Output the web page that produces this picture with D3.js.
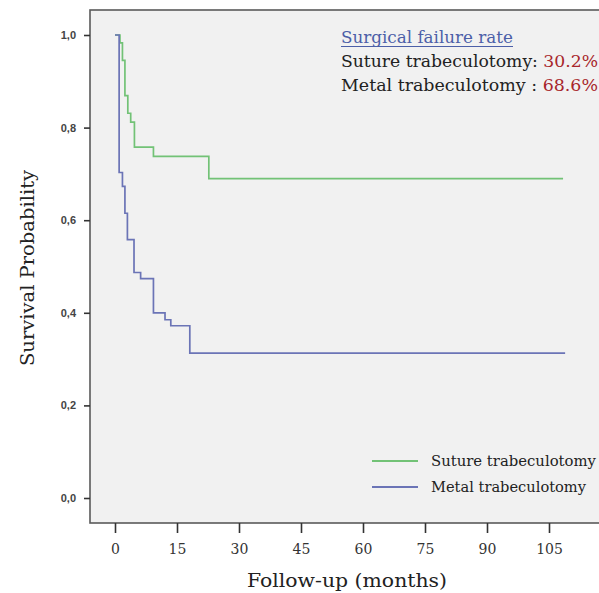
<!DOCTYPE html>
<html><head><meta charset="utf-8">
<script src="https://cdn.jsdelivr.net/npm/d3@7"></script>
<style>body{margin:0;background:#fff}svg{display:block}</style>
</head><body>
<script>
// ---- data ----
const sutureMonths = [0, 1.2, 1.8, 2.4, 3.1, 3.8, 4.7, 9.3, 22.7, 108.4];
const sutureSurv   = [1.0, 0.983, 0.945, 0.869, 0.831, 0.812, 0.758, 0.738, 0.690, 0.690];
const metalMonths  = [0, 1.0, 1.8, 2.4, 3.0, 4.6, 6.2, 9.3, 12.1, 13.5, 18.1, 108.9];
const metalSurv    = [1.0, 0.703, 0.673, 0.615, 0.558, 0.487, 0.474, 0.400, 0.385, 0.372, 0.313, 0.313];
const xTicks = [0, 15, 30, 45, 60, 75, 90, 105];
const yTicks = [0, 0.2, 0.4, 0.6, 0.8, 1.0];
const seriesNames = ["Suture trabeculotomy", "Metal trabeculotomy"];
const failureRates = ["30.2%", "68.6%"];

const W = 599, H = 593;
const svg = d3.select("body").append("svg").attr("width", W).attr("height", H);

const x = d3.scaleLinear().domain([0, 105]).range([115, 549]);
const y = d3.scaleLinear().domain([0, 1]).range([498, 35]);

// plot area
svg.append("rect").attr("x", 90).attr("y", 10).attr("width", W - 90 + 5).attr("height", 523 - 10)
  .attr("fill", "#f1f1f1").attr("stroke", "#5a5a5a").attr("stroke-width", 1.6);

const serif = "'DejaVu Serif', serif";
const sans = "'Liberation Sans', Arial, sans-serif";

const yAxis = svg.append("g").attr("transform", "translate(90,0)")
  .call(d3.axisLeft(y).tickValues(yTicks).tickSize(6).tickPadding(8)
    .tickFormat(d => d3.format(".1f")(d).replace(".", ",")));
yAxis.select(".domain").remove();
yAxis.selectAll("line").attr("stroke", "#333").attr("stroke-width", 1.6);
yAxis.selectAll("text").attr("font-family", sans).attr("font-size", 11).attr("fill", "#444").attr("font-weight", "bold");

const xAxis = svg.append("g").attr("transform", "translate(0,523)")
  .call(d3.axisBottom(x).tickValues(xTicks).tickSize(10).tickPadding(11));
xAxis.select(".domain").remove();
xAxis.selectAll("line").attr("stroke", "#333").attr("stroke-width", 1.6);
xAxis.selectAll("text").attr("font-family", serif).attr("font-size", 14).attr("fill", "#333");

// curves
const line = d3.line().x(d => x(d[0])).y(d => y(d[1])).curve(d3.curveStepAfter);
const colors = ["#72c276", "#6b74b6"];
svg.append("path").datum(d3.zip(sutureMonths, sutureSurv)).attr("d", line)
  .attr("fill", "none").attr("stroke", colors[0]).attr("stroke-width", 1.7);
svg.append("path").datum(d3.zip(metalMonths, metalSurv)).attr("d", line)
  .attr("fill", "none").attr("stroke", colors[1]).attr("stroke-width", 1.7);

// axis titles
svg.append("text").attr("x", 347).attr("y", 587).attr("text-anchor", "middle")
  .attr("font-family", serif).attr("font-size", 19).attr("fill", "#222")
  .attr("textLength", 200).attr("lengthAdjust", "spacingAndGlyphs").text("Follow-up (months)");
svg.append("text").attr("transform", "translate(34,268) rotate(-90)").attr("text-anchor", "middle")
  .attr("font-family", serif).attr("font-size", 19).attr("fill", "#222")
  .attr("textLength", 196).attr("lengthAdjust", "spacingAndGlyphs").text("Survival Probability");

// annotation
const ann = svg.append("g").attr("font-family", serif).attr("font-size", 16);
ann.append("text").attr("x", 341).attr("y", 43).attr("fill", "#4c5fa8")
  .attr("textLength", 172).attr("lengthAdjust", "spacingAndGlyphs").text("Surgical failure rate");
ann.append("line").attr("x1", 341).attr("x2", 513).attr("y1", 46.5).attr("y2", 46.5)
  .attr("stroke", "#4c5fa8").attr("stroke-width", 1);
const t1 = ann.append("text").attr("x", 341).attr("y", 67).attr("fill", "#222")
  .attr("textLength", 257).attr("lengthAdjust", "spacingAndGlyphs");
t1.append("tspan").text(seriesNames[0] + ": ");
t1.append("tspan").attr("fill", "#a8262b").text(failureRates[0]);
const t2 = ann.append("text").attr("x", 341).attr("y", 91).attr("fill", "#222")
  .attr("textLength", 257).attr("lengthAdjust", "spacingAndGlyphs");
t2.append("tspan").text(seriesNames[1] + "  : ");
t2.append("tspan").attr("fill", "#a8262b").text(failureRates[1]);

// legend
const leg = svg.append("g");
[0, 1].forEach(i => {
  const yy = 461 + i * 26;
  leg.append("line").attr("x1", 372).attr("x2", 418).attr("y1", yy).attr("y2", yy)
    .attr("stroke", colors[i]).attr("stroke-width", 1.8);
  leg.append("text").attr("x", 431).attr("y", yy + 5).attr("font-family", serif).attr("font-size", 15)
    .attr("fill", "#222").attr("textLength", i === 0 ? 165 : 155).attr("lengthAdjust", "spacingAndGlyphs")
    .text(seriesNames[i]);
});
</script>
</body></html>
